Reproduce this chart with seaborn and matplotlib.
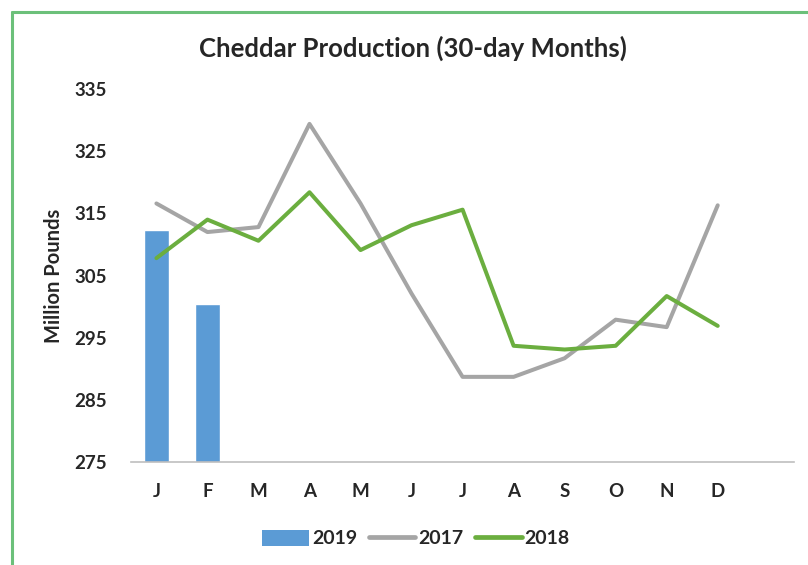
import numpy as np
import pandas as pd
import matplotlib
matplotlib.use("Agg")
import matplotlib.pyplot as plt
from matplotlib.lines import Line2D
from matplotlib.patches import Patch
import seaborn as sns

# ── Data ─────────────────────────────────────────────────────────────────
months = ["J", "F", "M", "A", "M", "J", "J", "A", "S", "O", "N", "D"]
prod_2019 = [312.4, 300.5]
prod_2017 = [316.6, 312.0, 312.8, 329.4, 316.6, 302.1, 288.7, 288.7, 291.7, 297.9, 296.7, 316.3]
prod_2018 = [307.8, 314.0, 310.6, 318.4, 309.1, 313.1, 315.6, 293.7, 293.1, 293.7, 301.7, 296.9]
yticks = [275, 285, 295, 305, 315, 325, 335]

BLUE, GREY, GREEN = "#5B9BD5", "#A5A5A5", "#6BAE3F"

sns.set_theme(style="white")
plt.rcParams["font.family"] = ["Lato", "DejaVu Sans"]

idx = np.arange(len(months))
df19 = pd.DataFrame({"m": idx[:len(prod_2019)], "v": prod_2019})
df_lines = pd.DataFrame({"m": np.concatenate([idx, idx]),
                         "v": prod_2017 + prod_2018,
                         "year": ["2017"] * len(idx) + ["2018"] * len(idx)})

fig = plt.figure(figsize=(8.08, 5.65), dpi=100)
ax = fig.add_axes([0.162, 0.1823, 0.821, 0.66])

sns.barplot(data=df19, x="m", y="v", native_scale=True, width=0.5,
            color=BLUE, saturation=1, ax=ax)
sns.lineplot(data=df_lines, x="m", y="v", hue="year",
             palette={"2017": GREY, "2018": GREEN},
             linewidth=2.9, legend=False, ax=ax)

ax.set_xlim(-0.5, 12.5)
ax.set_ylim(275, 335)
ax.set_yticks(yticks)
ax.set_yticklabels([str(t) for t in yticks], fontsize=13.5, fontweight="bold")
ax.set_xticks(idx)
ax.set_xticklabels(months, fontsize=13.5, fontweight="bold")
ax.tick_params(axis="y", length=0, pad=17)
ax.tick_params(axis="x", length=0, pad=15)
ax.set_xlabel("")
ax.set_ylabel("Million Pounds", fontsize=14.5, fontweight="bold", labelpad=8)
for s in ["top", "right", "left"]:
    ax.spines[s].set_visible(False)
ax.spines["bottom"].set_color("#BFBFBF")
ax.spines["bottom"].set_linewidth(1.2)
ax.grid(False)

fig.text(0.511, 0.915, "Cheddar Production (30-day Months)", ha="center",
         va="center", fontsize=18.5, fontweight="bold")

handles = [Patch(facecolor=BLUE, edgecolor="none"),
           Line2D([], [], color=GREY, linewidth=3.4),
           Line2D([], [], color=GREEN, linewidth=3.4)]
leg = fig.legend(handles, ["2019", "2017", "2018"], loc="center",
                 bbox_to_anchor=(0.515, 0.047), ncol=3, frameon=False,
                 handlelength=2.4, handleheight=0.9, handletextpad=0.15,
                 columnspacing=0.6, prop={"size": 14, "weight": "bold"})

# green frame around the chart
fig.add_artist(Line2D([12 / 808, 12 / 808], [0, 1 - 12 / 565],
                      transform=fig.transFigure, color="#6CC07A", linewidth=2.2))
fig.add_artist(Line2D([12 / 808, 1], [1 - 12 / 565, 1 - 12 / 565],
                      transform=fig.transFigure, color="#6CC07A", linewidth=2.2))

plt.savefig("out.png", dpi=100)
plt.close()
